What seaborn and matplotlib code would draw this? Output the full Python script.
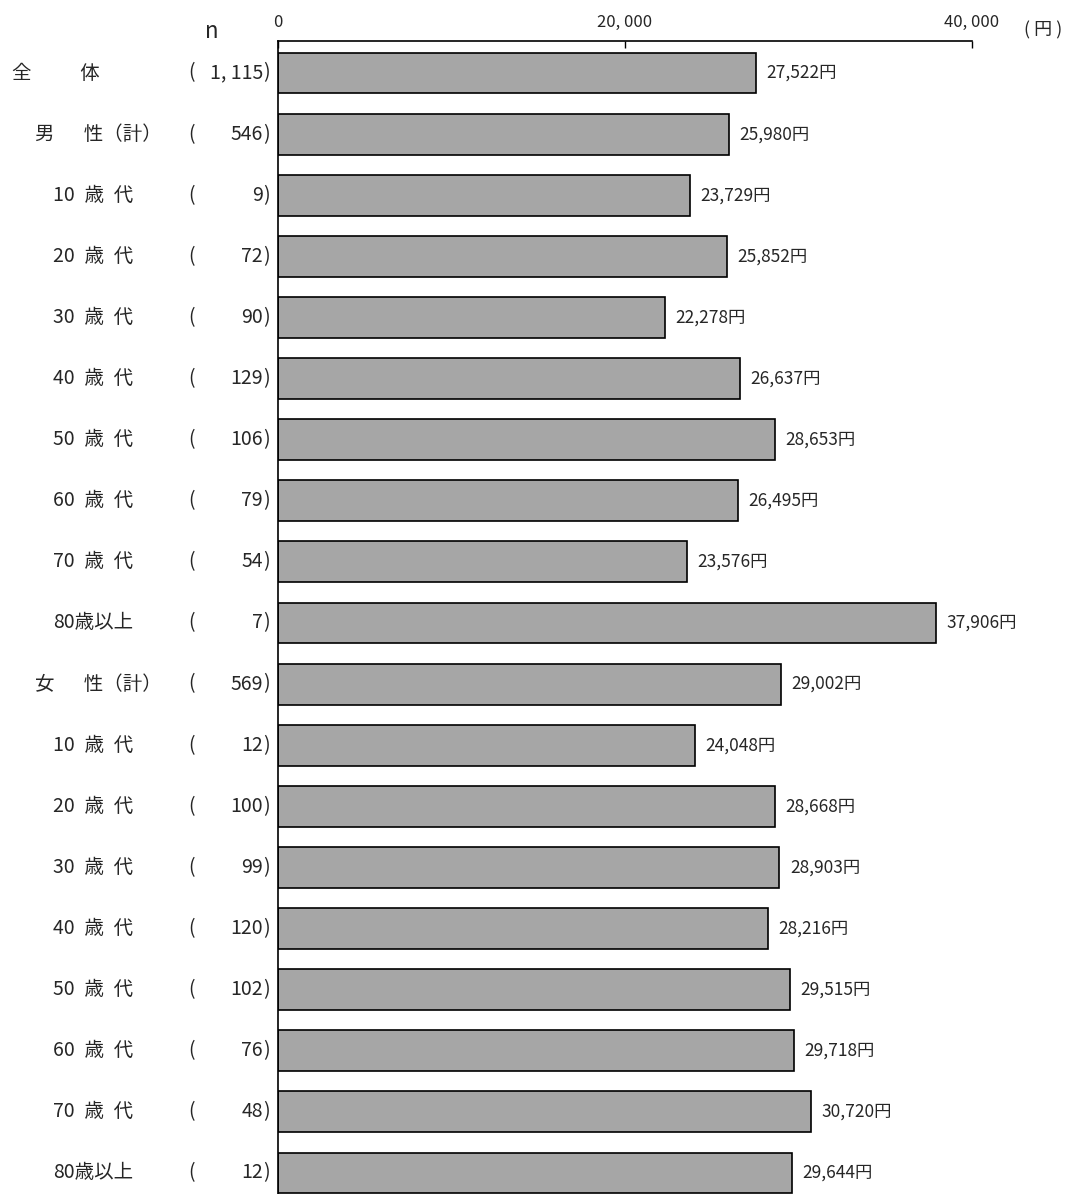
import pandas as pd
import seaborn as sns
import matplotlib.pyplot as plt
import matplotlib.transforms as mtransforms

# 区分・サンプル数・平均金額
labels = ["全\u3000\u3000\u2002体", "男\u3000\u2002性（計）", "10\u2002歳\u2002代", "20\u2002歳\u2002代",
          "30\u2002歳\u2002代", "40\u2002歳\u2002代", "50\u2002歳\u2002代", "60\u2002歳\u2002代",
          "70\u2002歳\u2002代", "80歳以上", "女\u3000\u2002性（計）", "10\u2002歳\u2002代",
          "20\u2002歳\u2002代", "30\u2002歳\u2002代", "40\u2002歳\u2002代", "50\u2002歳\u2002代",
          "60\u2002歳\u2002代", "70\u2002歳\u2002代", "80歳以上"]
indent = [0, 1, 2, 2, 2, 2, 2, 2, 2, 2, 1, 2, 2, 2, 2, 2, 2, 2, 2]
n_vals = ["1, 115", "546", "9", "72", "90", "129", "106", "79", "54", "7",
          "569", "12", "100", "99", "120", "102", "76", "48", "12"]
values = [27522, 25980, 23729, 25852, 22278, 26637, 28653, 26495, 23576, 37906,
          29002, 24048, 28668, 28903, 28216, 29515, 29718, 30720, 29644]

df = pd.DataFrame({"id": [str(i) for i in range(len(values))], "金額": values})

sns.set_theme(style="white")
plt.rcParams['font.family'] = ['Noto Sans CJK JP', 'DejaVu Sans']

fig = plt.figure(figsize=(10.66, 11.94), dpi=100)
ax = fig.add_axes([278 / 1066, 0, (972 - 278) / 1066, 1 - 41 / 1194])

sns.barplot(data=df, x="金額", y="id", orient="h", color="#a6a6a6", saturation=1,
            edgecolor="black", linewidth=1.2, width=0.67, ax=ax)

ax.set_xlim(0, 40000)
ax.set_ylim(18.344, -0.524)
ax.set_xlabel("")
ax.set_ylabel("")
ax.set_yticks([])
ax.xaxis.tick_top()
ax.set_xticks([0, 20000, 40000])
ax.set_xticklabels(["0", "20, 000", "40, 000"], fontsize=12)
ax.tick_params(axis="x", direction="in", length=5, width=1, color="black", pad=7, top=True)
for s in ["right", "bottom"]:
    ax.spines[s].set_visible(False)
for s in ["top", "left"]:
    ax.spines[s].set_color("black")
    ax.spines[s].set_linewidth(1.2)

for i, v in enumerate(values):
    ax.text(v + 600, i, f"{v:,}円", va="center", ha="left", fontsize=12.5)

fs = 14
trans = mtransforms.blended_transform_factory(fig.transFigure, ax.transData)
lab_x = [12, 35, 53]
for i, (lab, ind, n) in enumerate(zip(labels, indent, n_vals)):
    ax.text(lab_x[ind] / 1066, i, lab, transform=trans, va="center", ha="left", fontsize=fs)
    ax.text(188 / 1066, i, "(", transform=trans, va="center", ha="left", fontsize=fs)
    ax.text(263 / 1066, i, n, transform=trans, va="center", ha="right", fontsize=fs)
    ax.text(263 / 1066, i, ")", transform=trans, va="center", ha="left", fontsize=fs)

fig.text(212 / 1066, 1 - 32 / 1194, "n", ha="center", va="center", fontsize=16)
fig.text(1043 / 1066, 1 - 30 / 1194, "( 円 )", ha="center", va="center", fontsize=13)

fig.savefig("out.png", dpi=100, facecolor="white")
